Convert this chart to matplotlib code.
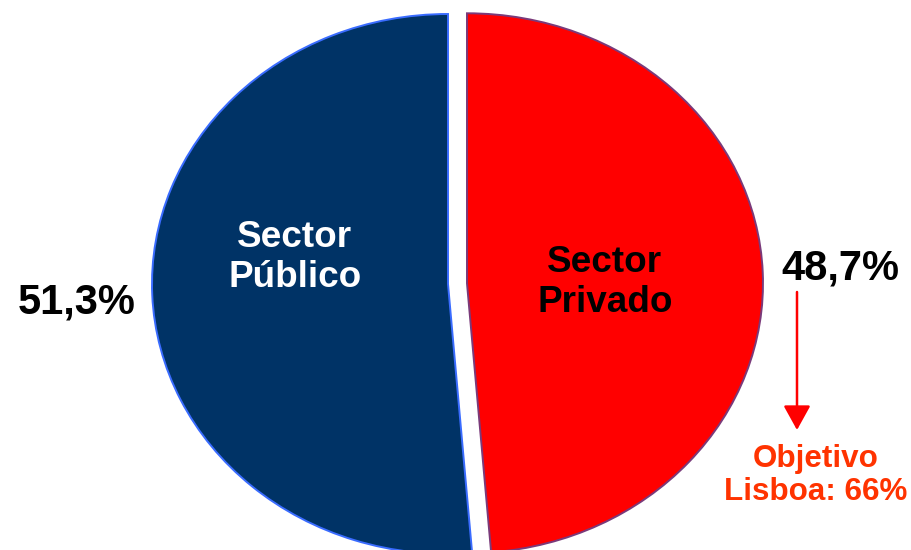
import matplotlib

matplotlib.use("Agg")
import matplotlib.pyplot as plt

# ---- data ----
sectors = ["Sector\nPrivado", "Sector\nPúblico"]
shares = [48.7, 51.3]
pct_labels = ["48,7%", "51,3%"]
target_label = "Objetivo\nLisboa: 66%"

fill_colors = ["#ff0000", "#003366"]
edge_colors = ["#7a3a7a", "#3a6cff"]
name_colors = ["black", "white"]

W, H = 912, 550
# pie centre and radii in pixels (the original is a stretched ellipse)
CX, CY, RX, RY = 448, 284, 296, 270


def px(x, y):
    """pixel position (from top-left) -> axes fraction"""
    return x / W, 1 - y / H


plt.rcParams["font.family"] = ["Liberation Sans", "DejaVu Sans"]

fig = plt.figure(figsize=(W / 100, H / 100), dpi=100)
ax = fig.add_axes([0, 0, 1, 1])

wedges, _ = ax.pie(shares, colors=fill_colors, startangle=90, counterclock=False,
                   explode=[19 / RX, 0], radius=1.0,
                   wedgeprops=dict(linewidth=1.4))
for w, ec in zip(wedges, edge_colors):
    w.set_edgecolor(ec)

ax.set_aspect("auto")
ax.set_xlim(-CX / RX, (W - CX) / RX)
ax.set_ylim(-(H - CY) / RY, CY / RY)
ax.axis("off")

# sector names inside the slices (last-line baseline positions)
ax.text(*px(605, 312), sectors[0], transform=ax.transAxes, ha="center", va="baseline",
        fontsize=26.6, fontweight="bold", color=name_colors[0])
ax.text(*px(295, 287), sectors[1], transform=ax.transAxes, ha="center", va="baseline",
        fontsize=26.6, fontweight="bold", color=name_colors[1])

# percentages outside
ax.text(*px(840, 280), pct_labels[0], transform=ax.transAxes, ha="center", va="baseline",
        fontsize=30, fontweight="bold", color="black")
ax.text(*px(77, 313), pct_labels[1], transform=ax.transAxes, ha="center", va="baseline",
        fontsize=30, fontweight="bold", color="black")

# arrow down to the Lisbon target
ax.annotate("", xy=px(797, 430), xytext=px(797, 292),
            xycoords="axes fraction", textcoords="axes fraction",
            arrowprops=dict(arrowstyle="-|>,head_length=1.5,head_width=0.83",
                            mutation_scale=10, color="#ff0000", lw=1.8,
                            shrinkA=0, shrinkB=0))
ax.text(*px(816, 500), target_label, transform=ax.transAxes, ha="center", va="baseline",
        fontsize=22.6, fontweight="bold", color="#ff3300", linespacing=1.15)

fig.savefig("out.png", dpi=100)
